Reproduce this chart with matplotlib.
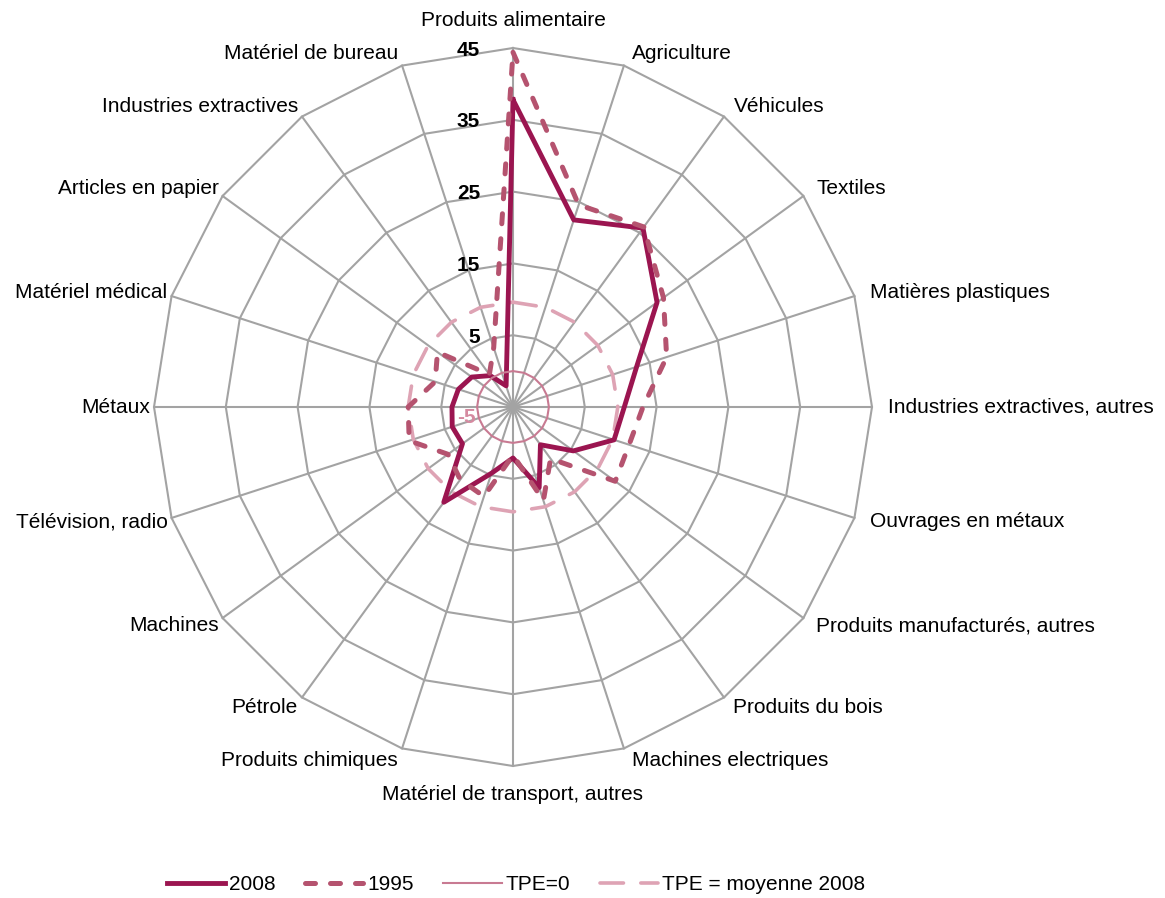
import numpy as np
import matplotlib
matplotlib.use("Agg")
import matplotlib.pyplot as plt

categories = [
    "Produits alimentaire", "Agriculture", "Véhicules", "Textiles",
    "Matières plastiques", "Industries extractives, autres",
    "Ouvrages en métaux", "Produits manufacturés, autres",
    "Produits du bois", "Machines electriques",
    "Matériel de transport, autres", "Produits chimiques", "Pétrole",
    "Machines", "Télévision, radio", "Métaux", "Matériel médical",
    "Articles en papier", "Industries extractives", "Matériel de bureau",
]
tpe_2008 = [37.8, 22.4, 25.8, 19.8, 13.1, 10.5, 9.8, 5.4, 1.5, 6.8,
            2.1, 4.7, 11.4, 3.7, 3.9, 3.5, 3.0, 2.1, 0.4, -1.9]
tpe_1995 = [44.4, 24.6, 26.0, 20.9, 17.5, 13.1, 12.0, 12.6, 3.9, 8.7,
            1.7, 8.1, 7.5, 6.2, 10.2, 9.6, 6.4, 8.0, 0.6, 3.7]
tpe_zero = 0
tpe_moyenne_2008 = 9.6
ring_values = [5, 15, 25, 35, 45]
r_min = -5

plt.rcParams['font.family'] = ['Liberation Sans', 'DejaVu Sans']

W, H = 1165, 898
cx, cy = 513, 407          # centre of the web, in pixels
scale = 7.18               # pixels per unit
n = len(categories)
angles = np.arange(n) * 2 * np.pi / n
R = ring_values[-1] - r_min


def to_xy(values):
    r = np.asarray(values, dtype=float) - r_min
    r = np.append(r, r[0])
    a = np.append(angles, angles[0])
    return r * np.sin(a), r * np.cos(a)


fig = plt.figure(figsize=(W / 100, H / 100), dpi=100)
ax = fig.add_axes([0, 0, 1, 1])
ax.set_xlim(-cx / scale, (W - cx) / scale)
ax.set_ylim(-(H - cy) / scale, cy / scale)
ax.axis('off')

# web
grid_c = '#a3a3a3'
for rv in ring_values:
    x, y = to_xy([rv] * n)
    ax.plot(x, y, color=grid_c, lw=1.5, zorder=1)
for a in angles:
    ax.plot([0, R * np.sin(a)], [0, R * np.cos(a)], color=grid_c, lw=1.5, zorder=1)

# radial tick labels
for rv in ring_values:
    ax.text(-33 / scale, rv - r_min - 0.3, str(rv), ha='right', va='center',
            fontsize=15, fontweight='bold', color='black', zorder=5)
ax.text(-37 / scale, -10 / scale, str(r_min), ha='right', va='center',
        fontsize=15, fontweight='bold', color='#d58aa0', zorder=5)

# category labels
for lab, a in zip(categories, angles):
    s, c = np.sin(a), np.cos(a)
    if abs(s) < 0.01:
        ax.text(0, R * c + 28 / scale * c, lab, ha='center', va='center', fontsize=15)
    elif s > 0:
        ax.text(R * s + 16 * max(abs(s), 0.5) / scale, R * c + 13 * c / scale, lab,
                ha='left', va='center', fontsize=15)
    else:
        ax.text(R * s - 4 / scale, R * c + 13 * c / scale, lab,
                ha='right', va='center', fontsize=15)

# series
x, y = to_xy(tpe_2008)
l08, = ax.plot(x, y, color='#9b1550', lw=3.5, zorder=3, label='2008')
x, y = to_xy(tpe_1995)
l95, = ax.plot(x, y, color='#b5536f', lw=3.6, dashes=(2, 3),
               dash_capstyle='round', zorder=4, label='1995')
x, y = to_xy([tpe_zero] * n)
l0, = ax.plot(x, y, color='#c87a92', lw=1.5, zorder=4, label='TPE=0')
x, y = to_xy([tpe_moyenne_2008] * n)
lm, = ax.plot(x, y, color='#dea3b4', lw=2.6, dashes=(6.5, 4.8),
              dash_capstyle='round', zorder=2, label='TPE = moyenne 2008')

fig.legend(handles=[l08, l95, l0, lm], loc='center',
           bbox_to_anchor=(516 / W, 1 - 885 / H), ncol=4, frameon=False,
           fontsize=15, handlelength=2.8, handletextpad=0.2, columnspacing=1.4)

fig.savefig('out.png', dpi=100)
